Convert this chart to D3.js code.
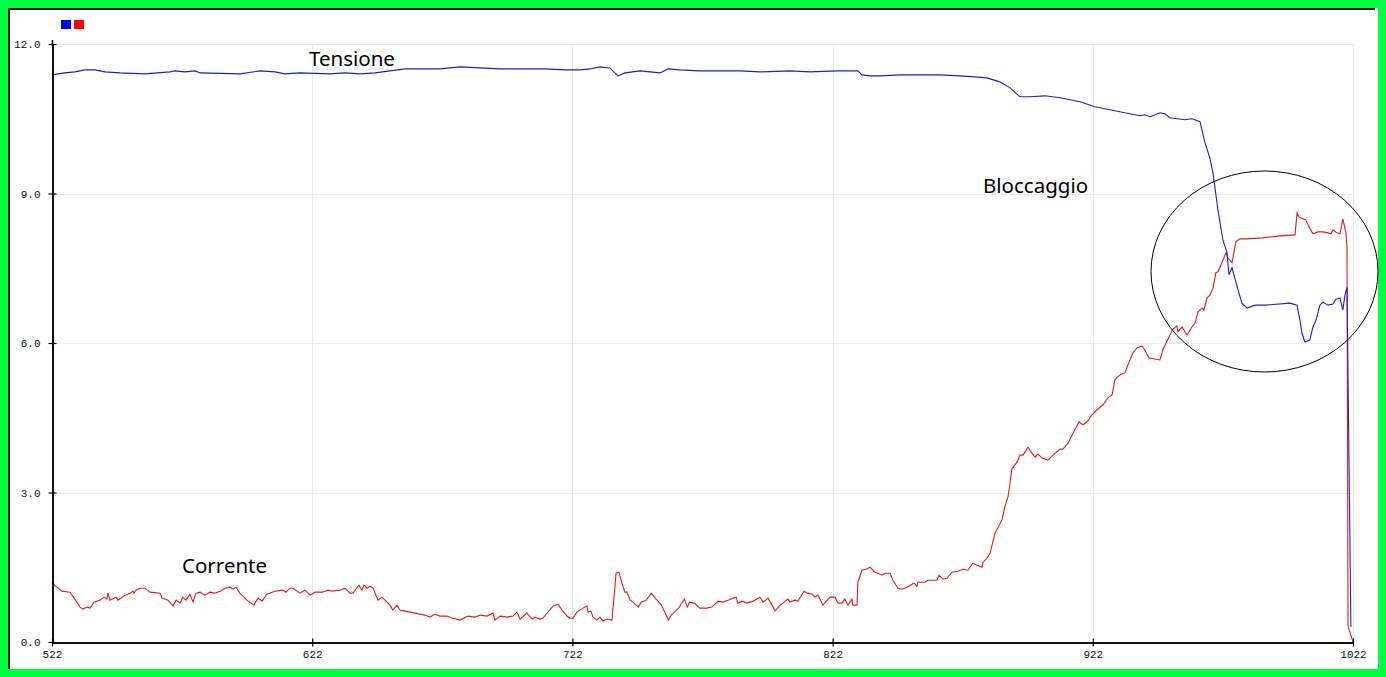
<!DOCTYPE html>
<html><head><meta charset="utf-8">
<script src="https://cdn.jsdelivr.net/npm/d3@7"></script>
<style>
html,body{margin:0;padding:0;background:#fff;}
svg{display:block;}
</style></head>
<body>
<svg id="chart" width="1386" height="677"></svg>
<script>
// ---- data ----
const xTicks = [522, 622, 722, 822, 922, 1022];
const yTicks = [0, 3, 6, 9, 12];
const seriesNames = ["Tensione", "Corrente"];
const seriesColors = ["#1f1fcc", "#e61c1c"];

const tensioneX = [522,524.3,527,530.8,534.7,538.5,542.4,548.1,557.7,567.3,569.3,573.1,577,578.9,594.2,601.9,607.7,611.5,617.3,628.8,634.6,640.4,646.1,651.9,657.7,671.1,678.8,686.5,694.2,701.9,711.5,719.2,725,728.8,732.6,736.4,739.5,742.2,748,751.8,755.7,758.7,763.3,771,786.4,794.1,805.6,813.3,824,831.7,833.3,836.4,840.2,847.9,863.3,871,876.7,881.3,886.3,890.2,894,897.8,903.6,909.4,917.1,922.8,928.6,932.4,940.1,942,944,947.8,949.7,951.6,957.4,960.1,963.2,965.1,967,968.2,970.1,972,973.6,974.3,975.5,977.8,979.3,981.3,984.3,988.2,997.8,1000.5,1001.6,1002.4,1003.5,1005.4,1006.6,1007.8,1009.3,1010.4,1012.4,1014.3,1015.4,1017,1018.1,1018.9,1019.7,1021.2];
const tensioneY = [11.38,11.40,11.42,11.44,11.48,11.48,11.44,11.42,11.40,11.44,11.46,11.44,11.46,11.42,11.40,11.46,11.44,11.40,11.42,11.40,11.42,11.40,11.42,11.46,11.50,11.50,11.54,11.52,11.50,11.50,11.50,11.48,11.48,11.50,11.54,11.52,11.36,11.42,11.46,11.44,11.42,11.50,11.48,11.46,11.46,11.44,11.46,11.44,11.46,11.46,11.38,11.36,11.36,11.38,11.38,11.36,11.34,11.32,11.24,11.12,10.94,10.94,10.96,10.92,10.84,10.74,10.68,10.64,10.56,10.58,10.54,10.62,10.60,10.52,10.48,10.50,10.44,10.02,9.71,9.41,8.67,8.07,7.81,7.37,7.51,7.07,6.80,6.70,6.76,6.76,6.80,6.76,6.46,6.20,6.02,6.06,6.32,6.46,6.76,6.82,6.76,6.78,6.88,6.90,6.66,6.96,7.12,0.30];

const correnteX = [522,523.9,525.8,528.9,530.8,532.8,533.9,535.5,536.6,538.1,540.4,542,543.1,543.5,544.3,546.6,547.4,550.1,552,553.1,553.5,554.3,555.8,557.7,559.7,563.5,564.3,566.6,568.5,569.7,571.2,572.3,573.5,575,576.2,577.3,578.9,580.8,582.7,584.6,586.6,588.5,590.4,591.6,592.7,594.2,596.9,599.6,601.2,602.7,604.6,607.7,610.8,611.9,613.5,614.6,617.3,619.2,621.2,623.1,625.8,628.1,629.6,632.7,634.6,636.5,637.7,638.8,640,641.1,641.9,643.1,644.2,645.4,647.3,648.8,651.9,653,654.6,655.7,657.7,661.5,665.3,667.3,669.2,671.1,673.8,675.7,678.8,681.9,684.6,686.5,689.2,691.5,692.2,694.2,696.9,699.2,700.7,701.9,704.5,706.5,707.6,709.5,710.7,712.6,714.5,716.5,718,719.9,721.1,722.2,723.8,724.9,726.1,727.6,728,729.1,729.9,731.4,732.6,733.7,735.3,737.2,738.8,739.9,741,742.2,743,744.2,745.7,747.3,748.4,750.4,752.3,753.5,756.2,758.9,760,761.2,763.1,765,766.2,767,768.9,771,773.7,775.6,778,779.9,781.8,783.7,784.9,785.6,787.2,789.1,791.4,794.1,795.3,797.2,798.7,799.9,801.8,802.9,804.9,805.6,807.5,808.7,811,812.2,814.1,815.2,816.4,818.3,821,822.9,824.1,825.6,826.7,827.9,829.4,829.8,831.4,831.7,833.3,834.8,836.4,838.3,839.4,841,842.1,844.1,845.2,847.1,848.7,850.6,852.5,853.3,854.4,854.8,857.5,858.7,862.1,862.9,864.4,866,867.9,870.2,872.1,874,875.9,877.5,879.4,879.8,881.3,882.5,884.4,887.1,888.2,889.4,890.2,890.9,892.9,894,895.2,895.9,897.1,898.6,899.8,900.9,902.5,904.8,906.7,909.4,910.5,912.5,914.4,916.7,918.2,919.8,921.7,923.6,926,927.8,929.4,930.5,932.4,934.4,935.5,937.4,939,940.9,942,943.6,947.8,948.9,950.9,952.8,954.3,954.7,956.3,958.2,960.1,961.3,962.4,964,964.7,965.9,967,968.2,969.3,970.1,971.6,973.2,973.9,975.5,977,978.5,981.2,987.4,993.9,999.7,1000.5,1001.2,1003.9,1005.1,1006.6,1008.5,1010.4,1012.4,1013.5,1014.3,1015.8,1017,1018.1,1019.3,1019.7,1020.1,1022];
const correnteY = [1.18,1.10,1.02,1.00,0.86,0.70,0.66,0.70,0.68,0.80,0.84,0.90,0.86,0.98,0.84,0.90,0.84,0.94,0.98,1.02,0.98,1.04,1.08,1.08,1.00,0.98,0.88,0.84,0.72,0.84,0.78,0.90,0.84,0.96,0.80,0.98,1.00,0.94,1.00,0.98,1.02,1.08,1.10,1.06,1.10,0.98,0.84,0.74,0.88,0.82,0.96,1.02,1.04,1.00,1.08,1.08,0.98,1.04,0.94,1.00,1.00,1.04,1.02,1.04,1.08,0.98,0.98,1.06,1.14,1.04,1.14,1.08,1.12,1.08,0.84,0.90,0.74,0.64,0.74,0.64,0.62,0.58,0.54,0.50,0.56,0.52,0.52,0.48,0.44,0.52,0.50,0.54,0.52,0.58,0.44,0.52,0.50,0.52,0.60,0.46,0.58,0.46,0.50,0.46,0.48,0.60,0.72,0.76,0.64,0.52,0.48,0.48,0.60,0.64,0.68,0.72,0.60,0.62,0.50,0.44,0.50,0.42,0.46,0.44,1.38,1.40,1.18,1.00,1.00,0.84,0.78,0.70,0.80,0.84,0.98,0.90,0.74,0.44,0.54,0.60,0.70,0.86,0.70,0.80,0.78,0.68,0.68,0.70,0.82,0.80,0.84,0.88,0.90,0.78,0.82,0.78,0.82,0.90,0.80,0.88,0.74,0.62,0.74,0.78,0.86,0.80,0.84,0.82,1.02,0.98,0.96,0.90,0.94,0.74,0.90,0.90,0.78,0.78,0.86,0.74,0.86,0.74,0.74,1.20,1.44,1.46,1.50,1.40,1.38,1.34,1.38,1.38,1.24,1.08,1.06,1.10,1.16,1.18,1.12,1.20,1.20,1.24,1.24,1.34,1.26,1.28,1.40,1.42,1.46,1.44,1.58,1.54,1.50,1.60,1.68,1.78,2.18,2.45,2.71,2.91,3.19,3.47,3.61,3.75,3.75,3.81,3.91,3.79,3.71,3.77,3.69,3.65,3.75,3.87,3.87,3.99,4.19,4.42,4.36,4.42,4.56,4.66,4.76,4.90,4.96,5.26,5.36,5.40,5.56,5.80,5.90,5.94,5.86,5.70,5.66,5.86,6.08,6.28,6.34,6.22,6.32,6.16,6.32,6.40,6.62,6.70,6.66,6.90,6.96,7.10,7.41,7.43,7.61,7.81,7.71,7.61,8.03,8.09,8.09,8.11,8.15,8.17,8.61,8.53,8.47,8.33,8.19,8.23,8.23,8.21,8.19,8.27,8.21,8.19,8.49,8.21,7.91,0.32,0.0];

const annotations = ["Tensione", "Bloccaggio", "Corrente"];

// ---- drawing ----
const W = 1386, H = 677;
const svg = d3.select("#chart");

// frame
svg.append("rect").attr("x",0).attr("y",0).attr("width",W).attr("height",H).attr("fill","#00ff40");
svg.append("rect").attr("x",8).attr("y",8).attr("width",1370).attr("height",661).attr("fill","#ffffff");
svg.append("line").attr("x1",8).attr("x2",1375).attr("y1",9).attr("y2",9).attr("stroke","#1a1a1a").attr("stroke-width",2);
svg.append("line").attr("x1",9).attr("x2",9).attr("y1",8).attr("y2",669).attr("stroke","#1a1a1a").attr("stroke-width",2);

const x = d3.scaleLinear().domain([522,1022]).range([52,1353]);
const y = d3.scaleLinear().domain([0,12]).range([642,44]);

// grid
const grid = svg.append("g").attr("shape-rendering","crispEdges");
grid.selectAll("line.h").data(yTicks.filter(d=>d>0)).join("line")
  .attr("x1",x(522)).attr("x2",x(1022)).attr("y1",d=>Math.round(y(d))+0.5).attr("y2",d=>Math.round(y(d))+0.5)
  .attr("stroke","#ebebeb");
grid.selectAll("line.v").data(xTicks.filter(d=>d>522)).join("line")
  .attr("y1",y(12)).attr("y2",y(0)).attr("x1",d=>Math.round(x(d))+0.5).attr("x2",d=>Math.round(x(d))+0.5)
  .attr("stroke","#ebebeb");

// legend squares
const leg = svg.append("g");
leg.selectAll("rect").data(seriesColors).join("rect")
  .attr("x",(d,i)=>61+i*13).attr("y",20).attr("width",10).attr("height",9)
  .attr("fill",(d,i)=>i===0?"#0000ff":"#ff0000");

// lines
const line = d3.line().x(d=>x(d[0])).y(d=>y(d[1]));
const tData = tensioneX.map((v,i)=>[v,tensioneY[i]]);
const cData = correnteX.map((v,i)=>[v,correnteY[i]]);
svg.append("path").datum(cData).attr("d",line).attr("fill","none").attr("stroke",seriesColors[1]).attr("stroke-width",1.1);
svg.append("path").datum(tData).attr("d",line).attr("fill","none").attr("stroke",seriesColors[0]).attr("stroke-width",1.1);

// axes
const fmt = d3.format(".1f");
const axFont = "'Liberation Mono', 'DejaVu Sans Mono', monospace";
const yl = svg.append("g").attr("transform","translate(52.5,0)")
  .call(d3.axisLeft(y).tickValues(yTicks).tickFormat(fmt).tickSize(4).tickSizeOuter(0).tickPadding(8));
const yr = svg.append("g").attr("transform","translate(52.5,0)")
  .call(d3.axisRight(y).tickValues(yTicks).tickFormat("").tickSize(4).tickSizeOuter(0));
const xb = svg.append("g").attr("transform","translate(0,642.5)")
  .call(d3.axisBottom(x).tickValues(xTicks).tickFormat(d3.format("d")).tickSize(4).tickSizeOuter(0).tickPadding(4));
const xt = svg.append("g").attr("transform","translate(0,642.5)")
  .call(d3.axisTop(x).tickValues(xTicks).tickFormat("").tickSize(4).tickSizeOuter(0));
[yl,yr,xb,xt].forEach(g=>{
  g.selectAll("path.domain").attr("stroke","#000").attr("stroke-width",1.5);
  g.selectAll(".tick line").attr("stroke","#000").attr("stroke-width",1.2);
  g.selectAll("text").attr("font-family",axFont).attr("font-size",11).attr("fill","#111");
});
// extend left axis a little above top
svg.append("line").attr("x1",52.5).attr("x2",52.5).attr("y1",y(12)-4).attr("y2",y(12)).attr("stroke","#000").attr("stroke-width",1.5);

// annotations
const annFont = "'Noto Sans', 'Open Sans', sans-serif";
const annPos = [[309,66],[983,193],[182,573]];
svg.selectAll("text.ann").data(annotations).join("text").attr("class","ann")
  .attr("x",(d,i)=>annPos[i][0]).attr("y",(d,i)=>annPos[i][1])
  .attr("font-family",annFont).attr("font-size",20.5).attr("fill","#000").text(d=>d);

// ellipse
svg.append("ellipse").attr("cx",1264.5).attr("cy",271.5).attr("rx",113.5).attr("ry",100.5)
  .attr("fill","none").attr("stroke","#000").attr("stroke-width",1);
</script>
</body></html>
